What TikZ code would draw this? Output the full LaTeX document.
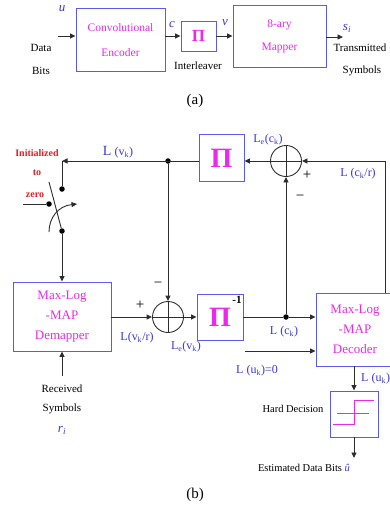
\documentclass[tikz,border=0pt]{standalone}
\usepackage{fontspec}
\setmainfont{Liberation Serif}
\usetikzlibrary{arrows.meta}
\definecolor{boxblue}{RGB}{90,90,235}
\definecolor{mag}{RGB}{235,40,235}
\definecolor{lblue}{RGB}{55,55,215}
\definecolor{ired}{RGB}{230,30,40}
\definecolor{wirec}{RGB}{45,45,45}
\tikzset{
  blk/.style={draw=boxblue, line width=0.9pt, text=mag, align=center, inner sep=0pt},
  wire/.style={draw=wirec, line width=0.9pt},
  arr/.style={wire, -{Triangle[length=5.5pt,width=5pt]}},
  dotn/.style={circle, fill=black, inner sep=0pt, minimum size=5.5pt},
  adder/.style={circle, draw=wirec, line width=0.9pt, inner sep=0pt, minimum size=31pt},
  lbl/.style={text=lblue, font=\fontsize{12}{12}\selectfont, inner sep=0pt},
  txt/.style={font=\fontsize{11}{13}\selectfont, inner sep=0pt},
  sgn/.style={font=\fontsize{15}{15}\selectfont, inner sep=0pt},
  redt/.style={text=ired, font=\fontsize{10}{12}\selectfont\bfseries, inner sep=0pt},
  var/.style={text=lblue, font=\fontsize{13}{13}\selectfont\itshape, inner sep=0pt}
}
\begin{document}
\begin{tikzpicture}[x=1pt,y=-1pt]
\useasboundingbox (0,0) rectangle (390,512);
\clip (0,0) rectangle (390,512);
% ---------------- (a) ----------------
\node[blk, minimum width=89pt, minimum height=63pt, font=\fontsize{11.5}{25}\selectfont] (enc) at (120.5,40) {Convolutional\\Encoder};
\node[blk, minimum width=35pt, minimum height=30pt, font=\fontsize{17}{17}\selectfont\bfseries] (pia) at (198.5,36) {Π};
\node[blk, minimum width=93pt, minimum height=62pt, font=\fontsize{11.5}{23}\selectfont] (map) at (279.5,36) {8-ary\\Mapper};
\coordinate (uin) at (58,36);
\coordinate (sout) at (343,37);
\draw[arr] (uin) -- (uin -| enc.west);
\draw[arr] (enc.east |- pia.west) -- (pia.west);
\draw[arr] (pia.east) -- (pia.east -| map.west);
\draw[arr] (sout -| map.east) -- (sout);
\node[var] (ul) at (62,9) {u};
\node[var] (cl) at (172,24) {c};
\node[var] (vl) at (225,23) {v};
\node[var] (sl) at (347,28) {s\textsubscript{\textit{i}}};
\node[txt] (data) at (41,48) {Data};
\node[txt] (bits) at (41,71) {Bits};
\node[txt] (intl) at (198,66) {Interleaver};
\node[txt] (trans) at (360,48) {Transmitted};
\node[txt] (sym) at (362,71) {Symbols};
\node[font=\fontsize{15}{15}\selectfont, inner sep=0pt] (capa) at (195,101) {(a)};
% ---------------- (b) ----------------
\node[blk, minimum width=45pt, minimum height=47pt, font=\fontsize{28}{28}\selectfont\bfseries] (P1) at (221.5,158) {Π};
\node[adder] (A1) at (286,161) {};
\draw[wire] (A1.north) -- (A1.south) (A1.west) -- (A1.east);
\node[blk, minimum width=98pt, minimum height=69pt, font=\fontsize{13}{20}\selectfont] (dem) at (62,316.5) {Max-Log\\-MAP\\Demapper};
\node[adder] (A2) at (168,317) {};
\draw[wire] (A2.north) -- (A2.south) (A2.west) -- (A2.east);
\node[blk, minimum width=46pt, minimum height=46pt, font=\fontsize{28}{28}\selectfont\bfseries] (P2) at (220,317) {Π};
\node[font=\fontsize{11}{11}\selectfont\bfseries, inner sep=0pt] (m1) at (237,300) {-1};
\node[blk, minimum width=78pt, minimum height=73pt, font=\fontsize{13}{20}\selectfont] (dec) at (355,329.5) {Max-Log\\-MAP\\Decoder};
\node[blk, minimum width=48pt, minimum height=46pt] (hd) at (354,414) {};
\begin{scope}[shift={(hd.center)}]
\draw[mag, line width=0.9pt] (-21,10) -- (0,10) -- (0,-14) -- (20,-14);
\draw[mag, line width=0.9pt] (-17,-1) -- (15,-1);
\end{scope}
% coordinates
\coordinate (R1) at (385,161);
\coordinate (S1) at (62,161);
\node[dotn] (D1) at (168,161) {};
\node[dotn] (D2) at (286,317) {};
\node[dotn] (SW1) at (62,189) {};
\node[dotn] (SW2) at (62,231) {};
\node[dotn] (SW3) at (49,204) {};
\coordinate (swin) at (23,204);
\coordinate (blade) at (49,182);
\coordinate (arcs) at (49,232);
\coordinate (arce) at (77,204);
\coordinate (rin) at (62,376);
\coordinate (uk0) at (245,351);
\coordinate (est) at (354,458);
% connectors
\draw[arr] (dec.north -| R1) -- (R1) -- (A1.east);
\draw[arr] (A1.west) -- (A1.west -| P1.east);
\draw[arr] (P1.west |- S1) -- (S1);
\draw[wire] (S1) -- (SW1);
\draw[arr] (D1) -- (A2.north);
\draw[arr] (D2) -- (A1.south);
\draw[wire] (swin) -- (SW3);
\draw[wire] (blade) -- (SW2);
\draw[arr] (arcs) .. controls (49,218) and (58,206) .. (arce);
\draw[arr] (SW2) -- (dem.north);
\draw[arr] (rin) -- (dem.south);
\draw[arr] (dem.east |- A2.west) -- (A2.west);
\draw[arr] (A2.east) -- (A2.east -| P2.west);
\draw[wire] (P2.east |- D2) -- (D2);
\draw[arr] (D2) -- (D2 -| dec.west);
\draw[arr] (uk0) -- (uk0 -| dec.west);
\draw[arr] (hd.north |- dec.south) -- (hd.north);
\draw[arr] (hd.south) -- (est);
% labels
\node[lbl] (lvk) at (118,152) {{\fontsize{14}{14}\selectfont L} (v\textsubscript{k})};
\node[lbl] (lec) at (268,140) {L\textsubscript{e}(c\textsubscript{k})};
\node[lbl] (lckr) at (358,174) {L (c\textsubscript{k}/r)};
\node[sgn] (p1) at (307,175) {+};
\node[sgn] (n1) at (300,198) {−};
\node[sgn] (p2) at (140,305) {+};
\node[sgn] (n2) at (158,285) {−};
\node[lbl] (lvkr) at (137,338) {L(v\textsubscript{k}/r)};
\node[lbl] (lev) at (186,347) {L\textsubscript{e}(v\textsubscript{k})};
\node[lbl] (lck) at (284,332) {L (c\textsubscript{k})};
\node[lbl] (luk0) at (257,371) {L (u\textsubscript{k})=0};
\node[lbl, anchor=west] (luk) at (361,379) {L (u\textsubscript{k})};
\node[redt] (ini) at (37,153) {Initialized};
\node[redt] (to) at (37,173) {to};
\node[redt] (zero) at (35,195) {zero};
\node[txt] (recv) at (62,389) {Received};
\node[txt] (syms) at (62,409) {Symbols};
\node[var] (ri) at (62,430) {r\textsubscript{\textit{i}}};
\node[txt, font=\fontsize{10.5}{12}\selectfont] (hdt) at (293,409) {Hard Decision};
\node[txt, font=\fontsize{10.5}{12}\selectfont] (edb) at (304,468) {Estimated Data Bits \textcolor{lblue}{\textit{û}}};
\node[font=\fontsize{15}{15}\selectfont, inner sep=0pt] (capb) at (195,495) {(b)};
\end{tikzpicture}
\end{document}
